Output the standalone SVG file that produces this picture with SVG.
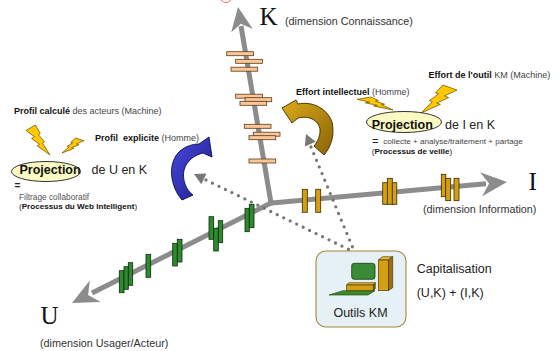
<svg xmlns="http://www.w3.org/2000/svg" xmlns:xlink="http://www.w3.org/1999/xlink" width="559" height="351" viewBox="0 0 559 351">
<defs>
<style>
text{font-family:"Liberation Sans",Arial,sans-serif;fill:#222}
.serif{font-family:"Liberation Serif","Times New Roman",serif;font-size:25px;fill:#111}
.dim{font-size:10.8px;fill:#333}
.lbl{font-size:9px;fill:#444}
.b{font-weight:bold;fill:#111}
.sm{font-size:8.1px;fill:#444}
.big{font-size:12.5px;fill:#222}
.axis{stroke:#8c8c8c;stroke-width:5;fill:none}
.ahead{fill:#8c8c8c}
.kbar{fill:#fcc796;stroke:#5a3a1a;stroke-width:0.8}
.ibar{fill:#d4a012;stroke:#3a2a00;stroke-width:0.8}
.ubar{fill:#2f8a2f;stroke:#0d2a0d;stroke-width:0.8}
.dots{stroke:#777;stroke-width:3.3;stroke-dasharray:0 7.2;stroke-linecap:round;fill:none}
.dhead{fill:#777}
.ell{fill:#fafac2;stroke:#333;stroke-width:1}
.boltp{fill:#ffc800;stroke:#7a5a00;stroke-width:0.8}
</style>
<polygon id="bolt" class="boltp" vector-effect="non-scaling-stroke" points="39.2,0 0,18.2 35,39 23.1,45 56.5,64.4 46.2,69.1 100,100 68.4,59.8 76.7,55.6 51.1,31.7 59.5,28.3"/>
<linearGradient id="blueG" x1="0" y1="0" x2="1" y2="1">
<stop offset="0" stop-color="#4a4ae0"/><stop offset="1" stop-color="#1c1c86"/>
</linearGradient>
<linearGradient id="goldG" x1="0" y1="0" x2="1" y2="1">
<stop offset="0" stop-color="#dcaa1c"/><stop offset="1" stop-color="#8a6406"/>
</linearGradient>
</defs>
<rect width="559" height="351" fill="#fff"/>
<path d="M221,0 Q226,5 231,0" fill="none" stroke="#e87070" stroke-width="1"/>

<g id="axis-K">
<line class="axis" x1="271" y1="203" x2="241" y2="26"/>
<polygon class="ahead" points="238,7 252.8,28.9 240.8,23.8 231.2,32.5"/>
<rect class="kbar" x="226.7" y="51.7" width="26.7" height="4"/>
<rect class="kbar" x="235.7" y="59.3" width="26.7" height="4"/>
<rect class="kbar" x="231" y="67.2" width="26.7" height="4"/>
<rect class="kbar" x="235.7" y="94.2" width="26.7" height="4"/>
<rect class="kbar" x="245" y="97.7" width="26.7" height="4"/>
<rect class="kbar" x="240" y="101.3" width="26.7" height="4"/>
<rect class="kbar" x="244.3" y="124.3" width="26.7" height="4"/>
<rect class="kbar" x="253.3" y="132.2" width="26.7" height="4"/>
<rect class="kbar" x="249" y="135.7" width="26.7" height="4"/>
<rect class="kbar" x="249" y="159" width="26.7" height="4"/>
<text class="serif" x="259.5" y="25">K</text>
<text class="dim" x="285" y="25">(dimension Connaissance)</text>
</g>

<g id="axis-I">
<line class="axis" x1="269" y1="203.2" x2="486" y2="183.8"/>
<polygon class="ahead" points="507,182 482.2,196.3 489.1,183.6 480,172.3"/>
<rect class="ibar" x="302.3" y="189.3" width="5" height="23"/>
<rect class="ibar" x="315.7" y="189.3" width="5" height="23"/>
<rect class="ibar" x="382.7" y="182.7" width="4.7" height="21.6"/>
<rect class="ibar" x="387.3" y="178.3" width="5" height="26"/>
<rect class="ibar" x="392.3" y="182.7" width="4.5" height="21.6"/>
<rect class="ibar" x="441.3" y="174.3" width="4.5" height="22.4"/>
<rect class="ibar" x="445.7" y="178.3" width="5" height="22.4"/>
<rect class="ibar" x="454" y="178.3" width="5" height="22.4"/>
<text class="serif" x="528.5" y="190">I</text>
<text class="dim" x="423" y="213">(dimension Information)</text>
</g>

<g id="axis-U">
<line class="axis" x1="272" y1="202.5" x2="92" y2="293"/>
<polygon class="ahead" points="72,303 89.8,280.6 88.1,294.9 100.6,302"/>
<rect class="ubar" x="119.3" y="270.7" width="4.7" height="22"/>
<rect class="ubar" x="124" y="266.7" width="4.3" height="22.6"/>
<rect class="ubar" x="128.3" y="262.7" width="4.4" height="22.6"/>
<rect class="ubar" x="146" y="254.3" width="4.7" height="23"/>
<rect class="ubar" x="172.7" y="243.3" width="4.6" height="22.7"/>
<rect class="ubar" x="177.3" y="239.3" width="4.7" height="22.7"/>
<rect class="ubar" x="209" y="216.7" width="4.7" height="22.6"/>
<rect class="ubar" x="213.7" y="228.3" width="4.6" height="22.7"/>
<rect class="ubar" x="218.3" y="220.7" width="4.4" height="22"/>
<rect class="ubar" x="245" y="208.3" width="4.3" height="23.4"/>
<rect class="ubar" x="249.3" y="204.3" width="4.7" height="23.4"/>
<text class="serif" x="40.5" y="323.5">U</text>
<text class="dim" x="40" y="347">(dimension Usager/Acteur)</text>
</g>

<g id="connectors">
<line class="dots" x1="206" y1="180" x2="352" y2="251"/>
<polygon class="dhead" points="194,174 206.5,173.4 201.3,184.2"/>
<line class="dots" x1="311" y1="147" x2="357" y2="258"/>
<polygon class="dhead" points="306,134 315.8,141.8 304.8,146.4"/>
</g>

<g id="arrow-profil-explicite">
<path d="M182,200 C170,186 167,163 180,151 C186,146 193,144 199,144 L209,137 L212,157 L203,153 C195,155 187,160 184,170 C182,180 186,190 193,195 Z" fill="url(#blueG)" stroke="#0a0a50" stroke-width="0.9"/>
</g>

<g id="arrow-effort-intellectuel">
<path d="M282,108 L296,100 L298,104 C312,101 327,108 332,122 C335,135 331,147 324,155 L314,146 C320,139 322,129 318,124 C314,118 306,116 298,118 L292,123 Z" fill="url(#goldG)" stroke="#3a2a00" stroke-width="0.9"/>
</g>

<g id="projection-U">
<text class="lbl" x="14" y="114"><tspan class="b">Profil calculé</tspan> des acteurs (Machine)</text>
<use xlink:href="#bolt" href="#bolt" transform="translate(26,125) scale(0.24,0.30)"/>
<use xlink:href="#bolt" href="#bolt" transform="translate(84,138) scale(-0.22,0.15)"/>
<text class="lbl" x="95" y="140.5"><tspan class="b">Profil&#160; explicite</tspan> (Homme)</text>
<ellipse class="ell" cx="46" cy="171.5" rx="34.5" ry="10"/>
<text x="19.5" y="173.5" style="font-size:12.5px;font-weight:bold;fill:#111">Projection</text>
<text class="big" x="91.5" y="173.5">de U en K</text>
<text x="14.5" y="189" style="font-size:10px;font-weight:bold;fill:#222">=</text>
<text class="sm" x="19" y="200" style="font-size:8.3px;fill:#555">Filtrage collaboratif</text>
<text class="sm" x="19" y="209" style="fill:#222">(<tspan class="b">Processus du Web Intelligent</tspan>)</text>
</g>

<g id="projection-I">
<text class="lbl" x="428.5" y="78.3"><tspan class="b">Effort de l'outil</tspan> KM (Machine)</text>
<text class="lbl" x="296" y="94.5"><tspan class="b">Effort intellectuel</tspan> (Homme)</text>
<use xlink:href="#bolt" href="#bolt" transform="translate(357,97) scale(0.36,0.13)"/>
<use xlink:href="#bolt" href="#bolt" transform="translate(457,85) scale(-0.36,0.28)"/>
<ellipse class="ell" cx="404" cy="122" rx="37.5" ry="10.5"/>
<text x="371.7" y="128.5" style="font-size:12.5px;font-weight:bold;fill:#111">Projection</text>
<text class="big" x="445" y="128.5">de I en K</text>
<text x="372" y="145" style="font-size:11px;fill:#222">=</text>
<text class="sm" x="383.3" y="144">collecte + analyse/traitement + partage</text>
<text class="sm" x="371.7" y="154" style="fill:#222">(<tspan class="b">Processus de veille</tspan>)</text>
</g>

<g id="outils-km">
<rect x="316" y="251" width="90" height="76" rx="10" fill="#e5f1f4" stroke="#a8843a" stroke-width="1.1"/>
<polygon points="329,295 343,290.7 375,290.7 368,295" fill="#3a8a2a" stroke="#1a3a10" stroke-width="0.6"/>
<polygon points="346.7,285 348.7,282.7 375.3,282.7 373.3,285" fill="#e8b830" stroke="#3a2a00" stroke-width="0.6"/>
<polygon points="373.3,285 375.3,282.7 375.3,288.7 373.3,290.7" fill="#8a6406" stroke="#3a2a00" stroke-width="0.6"/>
<rect x="346.7" y="285" width="26.6" height="5.7" fill="#d4a012" stroke="#3a2a00" stroke-width="0.6"/>
<rect x="351.7" y="263.3" width="23.3" height="16" rx="2.5" fill="#3a8a38" stroke="#1a3a10" stroke-width="0.8"/>
<polygon points="378.3,260 382.5,256.7 392.7,256.7 388.3,260" fill="#e8b830" stroke="#3a2a00" stroke-width="0.6"/>
<polygon points="388.3,260 392.7,256.7 392.7,287.7 388.3,290.7" fill="#9a7008" stroke="#3a2a00" stroke-width="0.6"/>
<rect x="378.3" y="260" width="10" height="30.7" fill="#d4a012" stroke="#3a2a00" stroke-width="0.6"/>
<text class="big" x="360.5" y="316.7" text-anchor="middle">Outils KM</text>
</g>

<g id="capitalisation">
<text class="big" x="416.7" y="273">Capitalisation</text>
<text class="big" x="416.7" y="296.7">(U,K) + (I,K)</text>
</g>
</svg>
